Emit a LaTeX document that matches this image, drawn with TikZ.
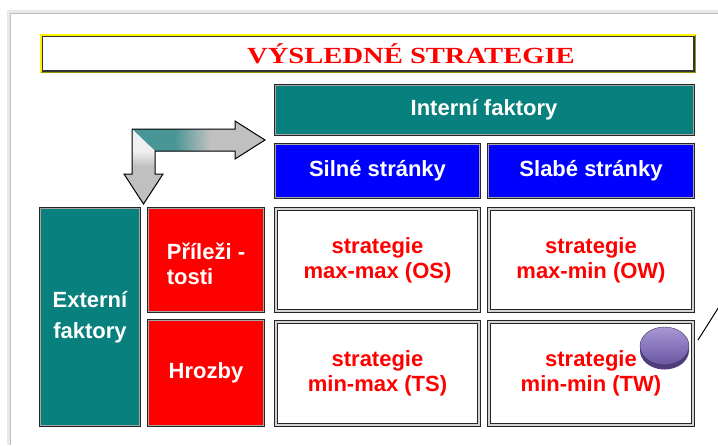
\documentclass[tikz,border=0pt]{standalone}
\usepackage{fontspec}
\setmainfont{Liberation Sans}
\newfontfamily\titlefont{Liberation Serif}
\definecolor{tealbox}{RGB}{8,128,126}
\definecolor{bluebox}{RGB}{0,0,255}
\definecolor{redbox}{RGB}{255,0,0}
\definecolor{arrowgray}{RGB}{192,192,192}
\definecolor{olivebevel}{RGB}{150,150,0}
\definecolor{btnlight}{RGB}{168,152,210}
\definecolor{btnmid}{RGB}{136,118,190}
\definecolor{btndark}{RGB}{104,86,158}
\definecolor{btnrim}{RGB}{78,62,124}
\begin{document}
\begin{tikzpicture}[x=1pt,y=-1pt,
  boxtext/.style={font=\fontsize{22}{25}\selectfont\bfseries, align=center, inner sep=0pt},
  colbox/.style={boxtext, text=white, preaction={draw=black!85, line width=3pt},
    draw=gray!70, line width=1pt},
  tealhdr/.style={colbox, fill=tealbox},
  bluehdr/.style={colbox, fill=bluebox},
  redhdr/.style={colbox, fill=redbox},
  stratbox/.style={boxtext, text=redbox, fill=white, draw=black!85, line width=0.9pt,
    double=gray!35, double distance=2.2pt},
  titlebox/.style={draw=black!80, line width=3pt, fill=white, inner sep=0pt, text=redbox,
    font=\titlefont\bfseries\fontsize{22}{24}\selectfont}
]
\useasboundingbox (0,0) rectangle (718,445);
\clip (0,0) rectangle (718,445);
\fill[white] (0,0) rectangle (718,445);

% slide edge with soft shadow
\draw[gray!18, line width=3pt] (8.5,445) -- (8.5,11.5) -- (718,11.5);
\draw[gray!50, line width=0.8pt] (10.5,445) -- (10.5,13.5) -- (718,13.5);

% title bar
\node[titlebox, minimum width=653pt, minimum height=36pt] (title) at (368,53.5)
  {\hspace*{86pt}\scalebox{1.3}[1.05]{VÝSLEDNÉ STRATEGIE}};
\draw[yellow, line width=1.5pt] ([shift={(0.75,0.75)}]title.north west) rectangle ([shift={(-0.75,-0.75)}]title.south east);
\draw[olivebevel, line width=1.5pt] ([shift={(0.75,-0.75)}]title.south west) -- ([shift={(-0.75,-0.75)}]title.south east) -- ([shift={(-0.75,0.75)}]title.north east);

% header row and column
\node[tealhdr, minimum width=418pt, minimum height=49pt] (intern) at (484,110) {Interní faktory};
\node[bluehdr, minimum width=204pt, minimum height=53pt] (silne) at (377.5,171) {Silné stránky};
\node[bluehdr, minimum width=205pt, minimum height=53pt] (slabe) at (591,171) {Slabé stránky};
\node[tealhdr, minimum width=99pt, minimum height=217pt, font=\fontsize{22}{31}\selectfont\bfseries] (extern) at (90,317) {Externí\\faktory};
\node[redhdr, minimum width=115pt, minimum height=103pt, align=left] (prilez) at (206,260) {\rule{0pt}{25pt}Příleži -\\tosti};
\node[redhdr, minimum width=115pt, minimum height=105pt] (hrozby) at (206,373) {Hrozby};

% strategy cells
\node[stratbox, minimum width=203pt, minimum height=102pt] (os) at (377.5,260) {strategie\\max-max (OS)};
\node[stratbox, minimum width=204pt, minimum height=102pt] (ow) at (591,260) {strategie\\max-min (OW)};
\node[stratbox, minimum width=203pt, minimum height=103pt] (ts) at (377.5,373.5) {strategie\\min-max (TS)};
\node[stratbox, minimum width=204pt, minimum height=103pt] (tw) at (591,373.5) {strategie\\min-min (TW)};

% bent arrow pointing to both factor headers
\def\bentarrow{(132,129) -- (235,129) -- (235,121) -- (265,140) -- (235,159) -- (235,151)
  -- (155,151) -- (155,174) -- (163,174) -- (143.5,204) -- (124,174) -- (132,174) -- cycle}
\fill[arrowgray] \bentarrow;
\begin{scope}
  \clip \bentarrow;
  \fill[tealbox!65!arrowgray] (132,129) -- (175,129) -- (175,151) -- (155,151) -- cycle;
  \fill[left color=tealbox!65!arrowgray, right color=arrowgray] (174.5,129) rectangle (210,151);
  \fill[white!75!arrowgray] (132,129) -- (155,151) -- (155,152) -- (132,152) -- cycle;
  \fill[top color=white!75!arrowgray, bottom color=arrowgray] (132,151.5) rectangle (155,166);
\end{scope}
\draw[black, line width=1pt, line join=miter] \bentarrow;

% pointer button with its leader line
\fill[btnrim] (664.5,350.5) ellipse [x radius=24.5pt, y radius=19pt];
\shade[top color=btnlight, bottom color=btndark, middle color=btnmid] (664.5,346) ellipse [x radius=24.5pt, y radius=19pt];
\draw[btnrim!80!black, line width=0.4pt] (664.5,346) ellipse [x radius=24.5pt, y radius=19pt];
\coordinate (leadA) at (698,340);
\coordinate (leadB) at (722,302);
\draw[black, line width=1pt] (leadA) -- (leadB);
\end{tikzpicture}
\end{document}
